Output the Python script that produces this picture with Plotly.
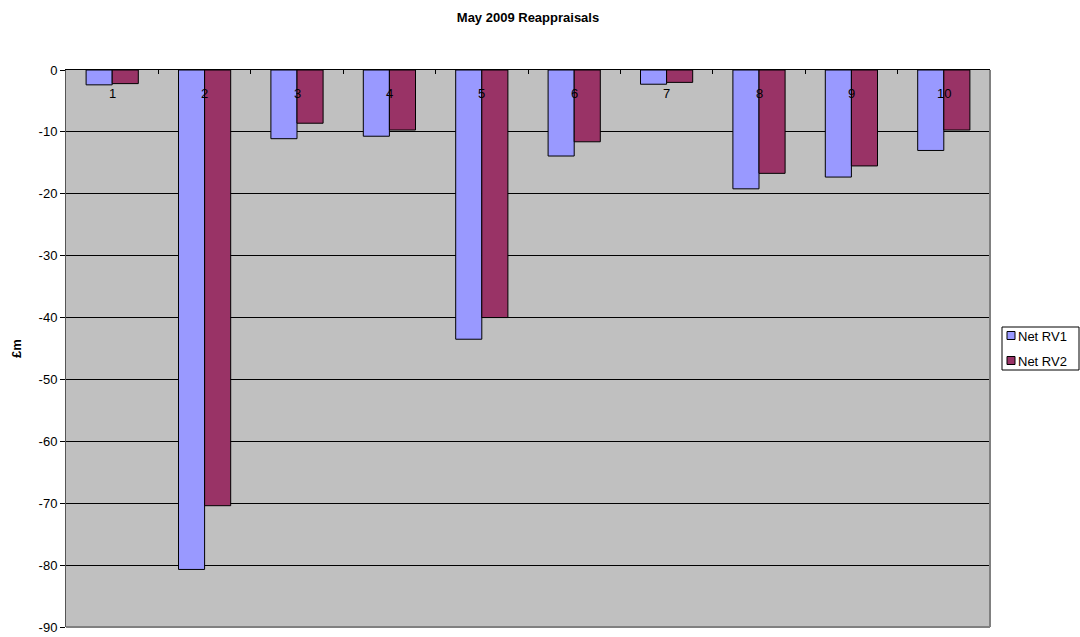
import plotly.graph_objects as go

categories = ["1", "2", "3", "4", "5", "6", "7", "8", "9", "10"]
net_rv1 = [-2.4, -80.7, -11.1, -10.7, -43.5, -13.9, -2.3, -19.2, -17.3, -13.0]
net_rv2 = [-2.2, -70.4, -8.6, -9.7, -40.0, -11.6, -2.0, -16.7, -15.5, -9.7]
y_ticks = [0, -10, -20, -30, -40, -50, -60, -70, -80, -90]
series_names = ["Net RV1", "Net RV2"]
series_colors = ["#9999FF", "#993366"]

FONT = "Liberation Sans, Arial, sans-serif"
W, H = 1080, 637
L, R, T, B = 66, 90, 70, 10
PW, PH = W - L - R, H - T - B


def px_x(px):
    return (px - L) / PW


def px_y(py):
    return (H - B - py) / PH


fig = go.Figure()
for name, vals, col in zip(series_names, [net_rv1, net_rv2], series_colors):
    fig.add_trace(go.Bar(x=categories, y=vals, name=name,
                         marker=dict(color=col, line=dict(color="black", width=1))))

fig.update_layout(
    width=W, height=H,
    margin=dict(l=L, r=R, t=T, b=B, autoexpand=False),
    paper_bgcolor="white",
    plot_bgcolor="#C0C0C0",
    barmode="group",
    bargap=0.435,
    bargroupgap=0,
    font=dict(family=FONT, size=13, color="black"),
    title=dict(text="<b>May 2009 Reappraisals</b>", x=0.5, xanchor="center",
               xref="paper", yref="container",
               y=0.972, yanchor="middle", font=dict(family=FONT, size=13)),
    showlegend=False,
)
fig.update_xaxes(
    type="category", side="top", showticklabels=False,
    ticks="inside", ticklen=4, tickcolor="black", tickson="boundaries",
    showline=True, linecolor="black", linewidth=1,
    showgrid=False, layer="above traces", automargin=False,
    range=[-0.5, len(categories) - 0.5],
)
fig.update_yaxes(
    range=[-90, 0], tickvals=y_ticks, ticktext=[str(v) for v in y_ticks],
    ticks="outside", ticklen=5,
    tickcolor="black", showline=True, linecolor="#555555", linewidth=1,
    showgrid=True, gridcolor="black", gridwidth=1, zeroline=False,
    title=dict(text="<b>£m</b>", font=dict(family=FONT, size=13), standoff=14),
    tickfont=dict(family=FONT, size=13), automargin=False,
)

# category labels just below the zero line (category index positions)
for i, c in enumerate(categories):
    fig.add_annotation(x=i, y=0, xref="x", yref="y", text=c, showarrow=False,
                       yanchor="middle", yshift=-23,
                       font=dict(family=FONT, size=13, color="black"))

# right and bottom border of plot area
fig.add_shape(type="line", xref="paper", yref="paper", x0=1, x1=1, y0=0, y1=1,
              line=dict(color="#808080", width=2))
fig.add_shape(type="line", xref="paper", yref="paper", x0=0, x1=1, y0=0, y1=0,
              line=dict(color="#808080", width=2))

# legend box
fig.add_shape(type="rect", xref="paper", yref="paper",
              x0=px_x(1002), x1=px_x(1079), y0=px_y(370), y1=px_y(327),
              line=dict(color="black", width=1), fillcolor="white")
for i, (name, col) in enumerate(zip(series_names, series_colors)):
    cy = 335.5 + i * 25
    fig.add_shape(type="rect", xref="paper", yref="paper",
                  x0=px_x(1007), x1=px_x(1015), y0=px_y(cy + 4), y1=px_y(cy - 4),
                  line=dict(color="black", width=1), fillcolor=col)
    fig.add_annotation(x=px_x(1016), y=px_y(cy + 1), xref="paper", yref="paper",
                       text=name, showarrow=False, xanchor="left", yanchor="middle",
                       font=dict(family=FONT, size=13, color="black"))

fig.write_html("out.html", config={"displayModeBar": False},
               post_script="document.body.style.margin='0px';document.body.style.padding='0px';")
